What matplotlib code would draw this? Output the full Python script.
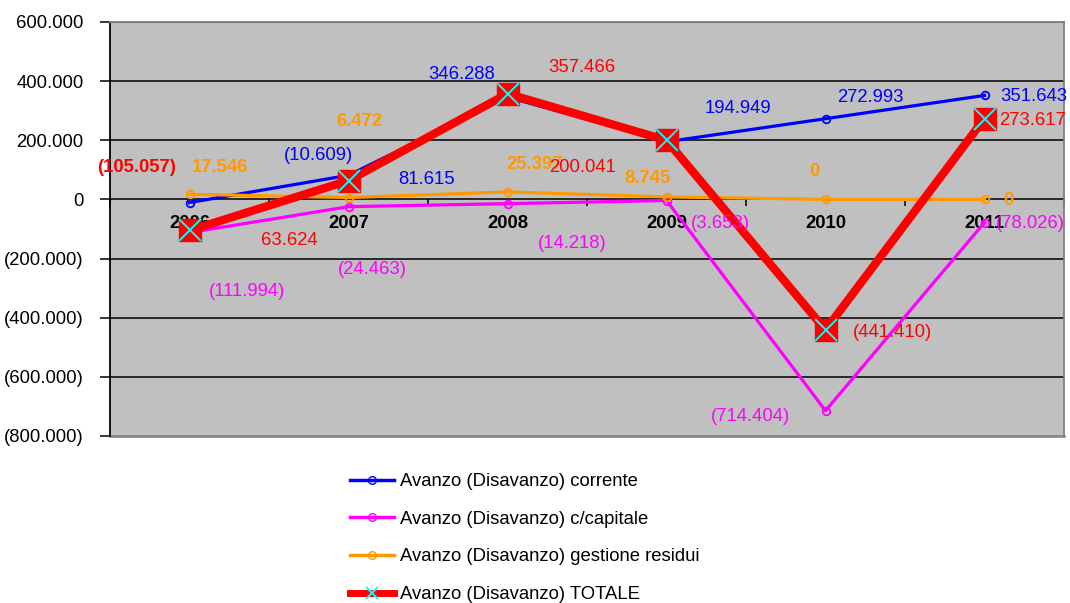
import matplotlib
matplotlib.use('Agg')
import matplotlib.pyplot as plt
from matplotlib.lines import Line2D

plt.rcParams['font.family'] = ['Liberation Sans', 'DejaVu Sans']

years = ['2006', '2007', '2008', '2009', '2010', '2011']
corrente = [-10609, 81615, 346288, 194949, 272993, 351643]
capitale = [-111994, -24463, -14218, -3653, -714404, -78026]
residui = [17546, 6472, 25397, 8745, 0, 0]
totale = [-105057, 63624, 357466, 200041, -441410, 273617]

names = ['Avanzo (Disavanzo) corrente',
         'Avanzo (Disavanzo) c/capitale',
         'Avanzo (Disavanzo) gestione residui',
         'Avanzo (Disavanzo) TOTALE']

# where Excel put the data labels (x in category units, y in data units)
pos_corrente = [(0.81, 149000), (1.49, 67800), (1.71, 423700),
                (3.45, 308500), (4.28, 345800), (5.31, 349200)]
pos_capitale = [(0.36, -311900), (1.15, -237300), (2.41, -149200),
                (3.34, -81400), (3.53, -735600), (5.29, -81400)]
pos_residui = [(0.19, 108500), (1.07, 264400), (2.17, 118600),
               (2.88, 71200), (3.93, 94900), (5.15, -3400)]
pos_totale = [(-0.33, 108500), (0.63, -139000), (2.47, 447500),
              (2.47, 108500), (4.42, -450800), (5.30, 267800)]


def fmt(v):
    if v == 0:
        return '0'
    s = f'{abs(v):,.0f}'.replace(',', '.')
    return f'({s})' if v < 0 else s


fs = 13.3
fig = plt.figure(figsize=(10.7, 6.03), dpi=100)
ax = fig.add_axes([110 / 1070, 1 - 436 / 603, (1064 - 110) / 1070, (436 - 22) / 603])
ax.set_facecolor('#C0C0C0')

x = list(range(len(years)))

for yv in range(-600000, 600001, 200000):
    if yv != 0:
        ax.axhline(yv, color='black', lw=1.1, zorder=1)

ax.plot(x, corrente, color='#0000FF', lw=2.3, marker='o', ms=5.5,
        mfc='none', mec='#0000FF', mew=1.3, zorder=3)
ax.plot(x, capitale, color='#FF00FF', lw=2.3, marker='o', ms=5.5,
        mfc='none', mec='#FF00FF', mew=1.3, zorder=3)
ax.plot(x, residui, color='#FF9900', lw=2.3, marker='o', ms=5.5,
        mfc='none', mec='#FF9900', mew=1.3, zorder=3)
ax.plot(x, totale, color='#FF0000', lw=6, marker='s', ms=15.5,
        mfc='#FF0000', mec='#FF0000', zorder=4)
ax.plot(x, totale, ls='none', marker='x', ms=15.5, mec='#00FFFF', mew=1.4, zorder=5)

for vals, pos, col, bold in [(corrente, pos_corrente, '#0000FF', False),
                             (capitale, pos_capitale, '#FF00FF', False),
                             (residui, pos_residui, '#FF9900', True),
                             (totale, pos_totale, '#FF0000', False)]:
    for i, (v, (px, py)) in enumerate(zip(vals, pos)):
        weight = 'bold' if bold or (col == '#FF0000' and i == 0) else 'normal'
        ax.text(px, py, fmt(v), color=col, fontsize=fs, fontweight=weight,
                ha='center', va='center', zorder=6, clip_on=False)

ax.set_xlim(-0.5, 5.5)
ax.set_ylim(-800000, 600000)
ax.set_yticks(range(-800000, 600001, 200000))
ax.set_yticklabels([fmt(v) for v in range(-800000, 600001, 200000)], fontsize=fs)
ax.tick_params(axis='y', length=7, width=1.1, pad=12, color='black')

ax.spines['bottom'].set_position(('data', 0))
ax.spines['bottom'].set_color('black')
ax.spines['bottom'].set_linewidth(1.1)
ax.spines['bottom'].set_zorder(2)
ax.spines['left'].set_color('black')
ax.spines['left'].set_linewidth(1.3)
for side in ['top', 'right']:
    ax.spines[side].set_color('#808080')
    ax.spines[side].set_linewidth(1.3)
ax.axhline(-800000, color='#808080', lw=1.8, zorder=2, clip_on=False)

ax.set_xticks(x)
ax.set_xticklabels(years, fontsize=fs, fontweight='bold')
ax.set_xticks([i + 0.5 for i in range(-1, 6)], minor=True)
ax.tick_params(axis='x', which='major', length=0, pad=11)
ax.tick_params(axis='x', which='minor', length=5, width=1.1, color='black')
for lbl in ax.get_xticklabels():
    lbl.set_zorder(7)

handles = [
    Line2D([], [], color='#0000FF', lw=2.5, marker='o', ms=5.5, mfc='none', mec='#0000FF'),
    Line2D([], [], color='#FF00FF', lw=2.5, marker='o', ms=5.5, mfc='none', mec='#FF00FF'),
    Line2D([], [], color='#FF9900', lw=2.5, marker='o', ms=5.5, mfc='none', mec='#FF9900'),
    Line2D([], [], color='#FF0000', lw=5, marker='x', ms=8, mec='#00FFFF', mew=1.4),
]
fig.legend(handles, names, loc='upper left', bbox_to_anchor=(350 / 1070, 1 - 473 / 603),
           frameon=False, fontsize=fs, handlelength=2.4, handletextpad=0.3,
           labelspacing=1.12, borderpad=0, borderaxespad=0)

fig.savefig('out.png', dpi=100)
